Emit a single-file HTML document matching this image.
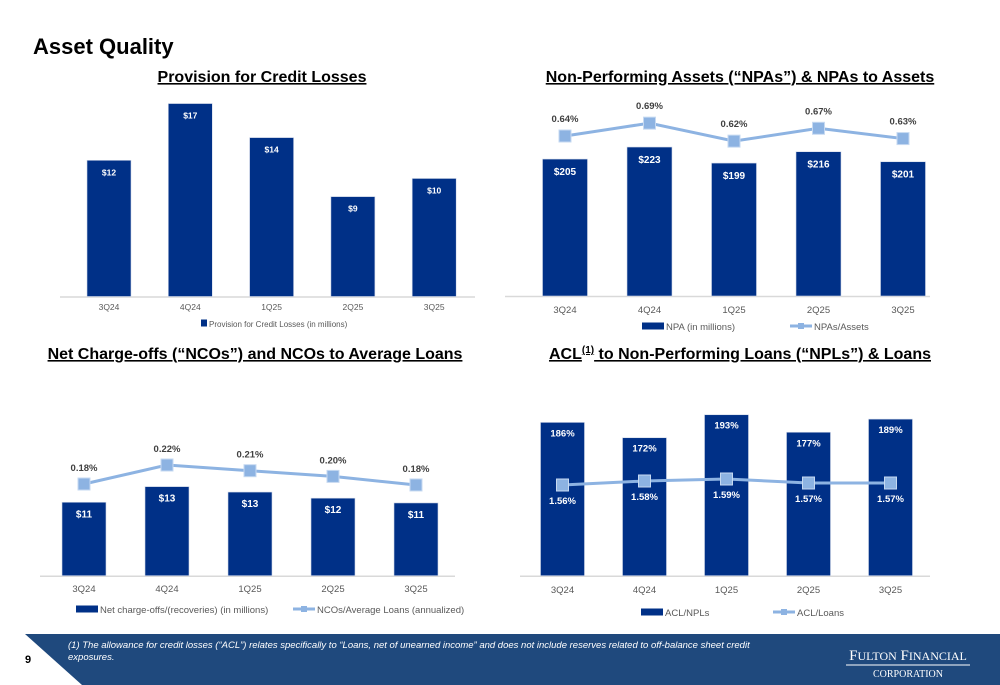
<!DOCTYPE html>
<html><head><meta charset="utf-8"><style>
body{margin:0;width:1000px;height:685px;overflow:hidden;background:#fff;font-family:"Liberation Sans",sans-serif}
svg{display:block}
</style></head><body>
<svg id="s" width="1000" height="685" viewBox="0 0 1000 685">
<text x="33" y="54" font-size="22" font-weight="bold" fill="#000">Asset Quality</text>
<text x="262" y="82" font-size="16" font-weight="bold" text-anchor="middle" text-decoration="underline">Provision for Credit Losses</text>
<text x="740" y="82" font-size="16" font-weight="bold" text-anchor="middle" text-decoration="underline">Non-Performing Assets (“NPAs”) &amp; NPAs to Assets</text>
<text x="255" y="359" font-size="16" font-weight="bold" text-anchor="middle" text-decoration="underline">Net Charge-offs (“NCOs”) and NCOs to Average Loans</text>
<text x="740" y="359" font-size="16" font-weight="bold" text-anchor="middle" text-decoration="underline">ACL<tspan font-size="10" dy="-6">(1)</tspan><tspan dy="6"> to Non-Performing Loans (“NPLs”) &amp; Loans</tspan></text>
<g id="charts"></g>
<path d="M25,634 L1000,634 L1000,685 L82,685 Z" fill="#1F497D"/>
<text x="25" y="663" font-size="11" font-weight="bold" fill="#000">9</text>
<text x="68" y="648" font-size="9.5" font-style="italic" fill="#fff"><tspan x="68">(1) The allowance for credit losses (“ACL”) relates specifically to “Loans, net of unearned income” and does not include reserves related to off-balance sheet credit</tspan><tspan x="68" dy="12">exposures.</tspan></text>
<g>
<text x="908" y="660" font-size="15" font-family="Liberation Serif" fill="#fff" text-anchor="middle">F<tspan font-size="12">ULTON</tspan> F<tspan font-size="12">INANCIAL</tspan></text>
<line x1="846" y1="665" x2="970" y2="665" stroke="#fff" stroke-width="1"/>
<text x="908" y="677" font-size="10" font-family="Liberation Serif" fill="#fff" text-anchor="middle">CORPORATION</text>
</g>
</svg>
<script>
const cats=["3Q24","4Q24","1Q25","2Q25","3Q25"];
const provVals=[12,17,14,8.8,10.4];
const provLabels=["$12","$17","$14","$9","$10"];
const npaVals=[205,223,199,216,201];
const npaLabels=["$205","$223","$199","$216","$201"];
const npaRatio=[0.64,0.69,0.62,0.67,0.63];
const npaRatioLabels=["0.64%","0.69%","0.62%","0.67%","0.63%"];
const ncoVals=[10.8,13.1,12.3,11.4,10.7];
const ncoLabels=["$11","$13","$13","$12","$11"];
const ncoRatio=[0.18,0.22,0.208,0.196,0.178];
const ncoRatioLabels=["0.18%","0.22%","0.21%","0.20%","0.18%"];
const aclNpl=[186,172,193,177,189];
const aclNplLabels=["186%","172%","193%","177%","189%"];
const aclLoans=[1.56,1.58,1.59,1.57,1.57];
const aclLoansLabels=["1.56%","1.58%","1.59%","1.57%","1.57%"];

const NS="http://www.w3.org/2000/svg";
const root=document.getElementById('charts');
function mk(tag,attrs,parent,txt){const e=document.createElementNS(NS,tag);for(const k in attrs)e.setAttribute(k,attrs[k]);if(txt!==undefined)e.textContent=txt;(parent||root).appendChild(e);return e;}
const BAR="#003087",LINE="#8DB3E2";
function chart(o){
  const g=mk('g',{});
  
  
  const yb=v=>o.base-(v-o.bmin)*o.bk;
  const xc=i=>o.x0+o.step*i;
  const ax=mk('line',{x1:o.axL,x2:o.axR,y1:o.base+0.5,y2:o.base+0.5,stroke:'#d9d9d9','stroke-width':1.5},g);
  
  
  o.bars.forEach((v,i)=>{
    const r=mk('rect',{x:xc(i)-o.bw/2,y:yb(v),width:o.bw,height:o.base-yb(v),fill:BAR,stroke:'#d0d8e8','stroke-width':0.6},g);
    
    
    const t=mk('text',{x:xc(i),y:yb(v)+o.blOff,'text-anchor':'middle','font-size':o.bfs,'font-weight':'bold',fill:'#fff'},g,o.barLabels[i]);
    
    
    const c=mk('text',{x:xc(i),y:o.catY,'text-anchor':'middle','font-size':o.cfs,fill:'#595959'},g,cats[i]);
    
    
  });
  if(o.line){
    const yl=v=>o.lref-(v-o.lrefv)*o.lk;
    const pts=o.line.map((v,i)=>xc(i)+','+yl(v)).join(' ');
    const pl=mk('polyline',{points:pts,fill:'none',stroke:LINE,'stroke-width':3},g);
    
    
    o.line.forEach((v,i)=>{
      const m=mk('rect',{x:xc(i)-6,y:yl(v)-6,width:12,height:12,fill:LINE,stroke:'#c6d9f1','stroke-width':1},g);
      
      
      const t=mk('text',{x:xc(i),y:yl(v)+o.llOff,'text-anchor':'middle','font-size':9.5,'font-weight':'bold',fill:o.llFill},g,o.lineLabels[i]);
      
      
    });
  }
  const lg=mk('g',{},g);
  
  
  o.legend.forEach(it=>{
    if(it.type==='bar'){mk('rect',{x:it.x,y:o.legY-4.5,width:it.w,height:7,fill:BAR},lg);}
    else{mk('line',{x1:it.x,x2:it.x+it.w,y1:o.legY-1,y2:o.legY-1,stroke:LINE,'stroke-width':3},lg);mk('rect',{x:it.x+it.w/2-3,y:o.legY-4,width:6,height:6,fill:LINE},lg);}
    mk('text',{x:it.x+it.w+2,y:o.legY+3,'font-size':o.lfs,fill:'#595959'},lg,it.text);
  });
}
chart({name:'provision-chart',base:296.5,bmin:0,bk:11.35,x0:109,step:81.3,bw:44,axL:60,axR:475,bars:provVals,barLabels:provLabels,blOff:15,bfs:8.5,catY:310,cfs:8.5,legY:324,lfs:8,
  legend:[{type:'bar',x:201,w:6,text:'Provision for Credit Losses (in millions)'}]});
chart({name:'npa-chart',base:296,bmin:0,bk:0.668,x0:565,step:84.5,bw:45,axL:505,axR:930,bars:npaVals,barLabels:npaLabels,blOff:16,bfs:10,catY:313,cfs:9.5,legY:327,lfs:9.5,
  line:npaRatio,lineLabels:npaRatioLabels,lref:136,lrefv:0.64,lk:257,llOff:-14,llFill:'#404040',
  legend:[{type:'bar',x:642,w:22,text:'NPA (in millions)'},{type:'line',x:790,w:22,text:'NPAs/Assets'}]});
chart({name:'nco-chart',base:575.7,bmin:0,bk:6.8,x0:84,step:83,bw:44,axL:40,axR:455,bars:ncoVals,barLabels:ncoLabels,blOff:15,bfs:10,catY:592,cfs:9.5,legY:610,lfs:9.5,
  line:ncoRatio,lineLabels:ncoRatioLabels,lref:484,lrefv:0.18,lk:475,llOff:-13,llFill:'#404040',
  legend:[{type:'bar',x:76,w:22,text:'Net charge-offs/(recoveries) (in millions)'},{type:'line',x:293,w:22,text:'NCOs/Average Loans (annualized)'}]});
chart({name:'acl-chart',base:575.7,bmin:46,bk:1.095,x0:562.5,step:82,bw:44,axL:520,axR:930,bars:aclNpl,barLabels:aclNplLabels,blOff:14,bfs:9.5,catY:593,cfs:9.5,legY:613,lfs:9.5,
  line:aclLoans,lineLabels:aclLoansLabels,lref:485,lrefv:1.56,lk:200,llOff:19,llFill:'#fff',
  legend:[{type:'bar',x:641,w:22,text:'ACL/NPLs'},{type:'line',x:773,w:22,text:'ACL/Loans'}]});
</script>
</body></html>
